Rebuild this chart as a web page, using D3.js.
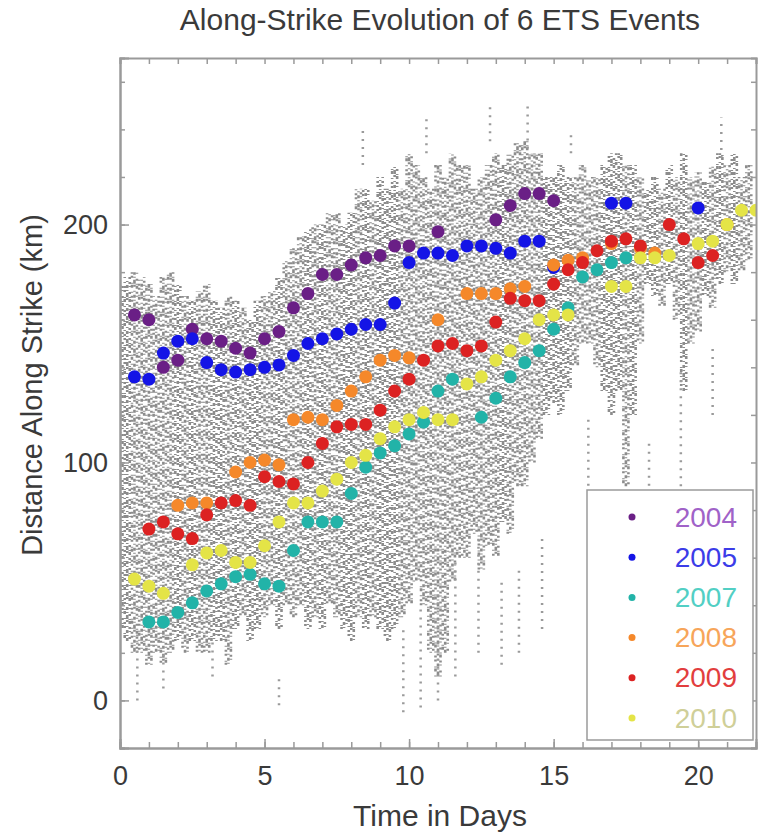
<!DOCTYPE html>
<html>
<head>
<meta charset="utf-8">
<script src="https://cdn.jsdelivr.net/npm/d3@7"></script>
<style>
  body { margin: 0; background: #fff; }
  svg { font-family: "Liberation Sans", Arial, sans-serif; }
</style>
</head>
<body>
<div id="chart"></div>
<script>
const svgWidth = 762, svgHeight = 835;

// tremor cloud, read as columns: [day, low km, high km]
const tremorCols = [
  [0.0,30,175],[0.25,25,178],[0.5,20,180],[0.75,20,178],[1.0,15,175],[1.25,20,170],
  [1.5,15,178],[1.75,20,180],[2.0,25,175],[2.25,20,170],[2.5,25,168],[2.75,20,172],
  [3.0,20,175],[3.25,25,168],[3.5,25,165],[3.75,15,170],[4.0,30,168],[4.25,35,165],
  [4.5,25,160],[4.75,30,168],[5.0,35,170],[5.25,40,172],[5.5,30,178],[5.75,40,185],
  [6.0,35,190],[6.25,40,195],[6.5,30,198],[6.75,35,200],[7.0,30,200],[7.25,40,205],
  [7.5,35,205],[7.75,30,200],[8.0,25,205],[8.25,35,215],[8.5,30,215],[8.75,35,210],
  [9.0,30,220],[9.25,25,215],[9.5,30,225],[9.75,35,215],[10.0,40,230],[10.25,50,225],
  [10.5,40,220],[10.75,20,215],[11.0,10,225],[11.25,20,220],[11.5,50,230],[11.75,60,225],
  [12.0,60,225],[12.25,70,215],[12.5,55,220],[12.75,65,225],[13.0,60,230],[13.25,75,225],
  [13.5,70,230],[13.75,90,235],[14.0,90,235],[14.25,100,230],[14.5,110,230],[14.75,120,220],
  [15.0,125,220],[15.25,120,225],[15.5,130,220],[15.75,140,220],[16.0,150,225],[16.25,150,220],
  [16.5,140,220],[16.75,130,225],[17.0,120,230],[17.25,130,230],[17.5,90,225],[17.75,120,225],
  [18.0,150,220],[18.25,175,215],[18.5,170,220],[18.75,165,215],[19.0,175,225],[19.25,160,220],
  [19.5,130,230],[19.75,150,220],[20.0,155,222],[20.25,170,218],[20.5,165,225],[20.75,175,230],
  [21.0,180,225],[21.25,175,230],[21.5,180,220],[21.75,185,225]
];
// scattered outliers: [day, low km, high km]
const tremorSparse = [
  [0.6,0,30],[1.5,5,20],[3.2,10,25],[5.5,-2,10],[9.8,-5,30],[10.4,-3,40],[11.0,0,45],
  [11.6,10,60],[12.4,20,70],[13.2,15,50],[13.8,20,55],[14.6,30,70],[16.2,60,120],
  [17.6,40,90],[18.3,70,110],[19.4,90,140],[20.5,120,150],[8.4,225,240],[10.6,230,245],
  [12.8,235,250],[14.1,232,252],[15.6,230,240],[20.8,228,245]
];

const years = ["2004", "2005", "2007", "2008", "2009", "2010"];
const dotColors = ["#6a1f86", "#1414e6", "#22b3a8", "#f5882a", "#dc2222", "#e4e447"];
const labelColors = ["#a062c8", "#3c3ce8", "#52cfc4", "#f7a55a", "#e23e3e", "#cfcf98"];

const days2004 = [0.5,1,1.5,2,2.5,3,3.5,4,4.5,5,5.5,6,6.5,7,7.5,8,8.5,9,9.5,10,11,13,13.5,14,14.5,15];
const km2004 = [162,160,140,143,156,152,151,148,146,152,155,165,171,179,179,183,186,187,191,191,197,202,208,213,213,210];

const days2005 = [0.5,1,1.5,2,2.5,3,3.5,4,4.5,5,5.5,6,6.5,7,7.5,8,8.5,9,9.5,10,10.5,11,11.5,12,12.5,13,13.5,14,14.5,15,17,17.5,20];
const km2005 = [136,135,146,151,152,142,139,138,139,140,141,145,150,152,154,156,158,158,167,184,188,188,187,191,191,190,188,193,193,182,209,209,207];

const days2007 = [1,1.5,2,2.5,3,3.5,4,4.5,5,5.5,6,6.5,7,7.5,8,8.5,9,9.5,10,10.5,11,11.5,12.5,13,13.5,14,14.5,15,15.5,16,16.5,17,17.5];
const km2007 = [33,33,37,41,46,49,52,53,49,48,63,75,75,75,87,98,104,107,112,117,130,135,119,127,136,142,147,156,165,178,181,184,186];

const days2008 = [2,2.5,3,4,4.5,5,5.5,6,6.5,7,7.5,8,8.5,9,9.5,10,11,12,12.5,13,13.5,14,15,15.5,16,17,18,18.5,21];
const km2008 = [82,83,83,96,100,101,99,118,119,118,124,130,136,143,145,144,160,171,171,171,173,174,183,185,186,192,190,188,200];

const days2009 = [1,1.5,2,2.5,3,3.5,4,4.5,5,5.5,6,6.5,7,7.5,8,8.5,9,9.5,10,10.5,11,11.5,12,12.5,13,13.5,14,14.5,15,15.5,16,16.5,17,17.5,18,19,19.5,20,20.5];
const km2009 = [72,75,70,68,78,83,84,82,94,92,91,100,108,115,116,116,122,130,135,143,149,150,147,149,159,169,168,168,175,181,184,189,193,194,191,200,194,184,187];

const days2010 = [0.5,1,1.5,2.5,3,3.5,4,4.5,5,5.5,6,6.5,7,7.5,8,8.5,9,9.5,10,10.5,11,11.5,12,12.5,13,13.5,14,14.5,15,15.5,17,17.5,18,18.5,19,20,20.5,21,21.5,22];
const km2010 = [51,48,45,57,62,63,58,58,65,75,83,83,88,93,100,103,110,115,118,121,118,118,133,136,143,147,152,160,162,162,174,174,186,186,187,192,193,200,206,206];

const xTicks = [0, 5, 10, 15, 20];
const yTicks = [0, 100, 200];

const allDays = [days2004, days2005, days2007, days2008, days2009, days2010];
const allKm = [km2004, km2005, km2007, km2008, km2009, km2010];

const svg = d3.select("#chart").append("svg")
  .attr("width", svgWidth)
  .attr("height", svgHeight);

const x = d3.scaleLinear().domain([0, 22]).range([120, 756]);
const y = d3.scaleLinear().domain([-20, 270]).range([748, 58]);

const plot = svg.append("g");
plot.append("clipPath").attr("id", "clip")
  .append("rect").attr("x", 120).attr("y", 58).attr("width", 636).attr("height", 690);

// gray tremor cloud: each column drawn as three speckled strands
const strands = [
  { dx: -2.5, dash: "2 3 1 4 3 1 1 5 2 2" },
  { dx: 0, dash: "1 2 3 3 1 4 2 1 4 2" },
  { dx: 2.5, dash: "3 1 1 3 2 5 1 2 2 3" }
];
const cloud = plot.append("g").attr("clip-path", "url(#clip)");
strands.forEach((s, j) => {
  cloud.append("g").selectAll("line").data(tremorCols).enter().append("line")
    .attr("x1", d => x(d[0]) + s.dx).attr("x2", d => x(d[0]) + s.dx)
    .attr("y1", d => y(d[1])).attr("y2", d => y(d[2]))
    .attr("stroke", "#8c8c8c")
    .attr("stroke-width", 2.6)
    .attr("stroke-dasharray", s.dash)
    .attr("stroke-dashoffset", (d, i) => (i * i * 7 + j * 11) % 23);
});

plot.append("g").attr("clip-path", "url(#clip)")
  .selectAll("line").data(tremorSparse).enter().append("line")
  .attr("x1", d => x(d[0])).attr("x2", d => x(d[0]))
  .attr("y1", d => y(d[1])).attr("y2", d => y(d[2]))
  .attr("stroke", "#9a9a9a")
  .attr("stroke-width", 2.5)
  .attr("stroke-dasharray", "2 6");

// colored event series
years.forEach((yr, k) => {
  const pts = allDays[k].map((d, i) => [d, allKm[k][i]]);
  plot.append("g").attr("clip-path", "url(#clip)")
    .selectAll("circle").data(pts).enter().append("circle")
    .attr("cx", d => x(d[0]))
    .attr("cy", d => y(d[1]))
    .attr("r", 6.5)
    .attr("fill", dotColors[k]);
});

// axes (ticks inward, box on all four sides)
const frame = "#9a9a9a";
const styleAxis = g => {
  g.select(".domain").attr("stroke", frame).attr("stroke-width", 2);
  g.selectAll(".tick line").attr("stroke", frame).attr("stroke-width", 1.5);
  g.selectAll("text").attr("fill", "#3a3a3a").attr("font-size", 27);
};

svg.append("g").attr("transform", "translate(0,748)")
  .call(d3.axisBottom(x).tickValues(d3.range(0, 23, 1)).tickSize(-6).tickFormat(""))
  .call(styleAxis);
svg.append("g").attr("transform", "translate(0,748)")
  .call(d3.axisBottom(x).tickValues(xTicks).tickSize(-9).tickPadding(18).tickFormat(d3.format("d")))
  .call(styleAxis);
svg.append("g").attr("transform", "translate(0,58)")
  .call(d3.axisTop(x).tickValues(d3.range(0, 23, 1)).tickSize(-6).tickFormat(""))
  .call(styleAxis);
svg.append("g").attr("transform", "translate(120,0)")
  .call(d3.axisLeft(y).tickValues(d3.range(-20, 271, 20)).tickSize(-5).tickFormat(""))
  .call(styleAxis);
svg.append("g").attr("transform", "translate(120,0)")
  .call(d3.axisLeft(y).tickValues(yTicks).tickSize(-9).tickPadding(12).tickFormat(d3.format("d")))
  .call(styleAxis);
svg.append("g").attr("transform", "translate(756,0)")
  .call(d3.axisRight(y).tickValues(d3.range(-20, 271, 20)).tickSize(-5).tickFormat(""))
  .call(styleAxis);

// legend
const legend = svg.append("g");
legend.append("rect")
  .attr("x", 587).attr("y", 490).attr("width", 166).attr("height", 250)
  .attr("fill", "#fff").attr("stroke", frame).attr("stroke-width", 1.5);
years.forEach((yr, k) => {
  const ly = 517 + k * 40.2;
  legend.append("circle").attr("cx", 632).attr("cy", ly).attr("r", 3.5).attr("fill", dotColors[k]);
  legend.append("text").attr("x", 737).attr("y", ly)
    .attr("text-anchor", "end").attr("dominant-baseline", "central")
    .attr("font-size", 28).attr("fill", labelColors[k]).text(yr);
});

// titles
svg.append("text").attr("x", 440).attr("y", 30)
  .attr("text-anchor", "middle").attr("font-size", 30).attr("fill", "#3a3a3a")
  .text("Along-Strike Evolution of 6 ETS Events");
svg.append("text").attr("x", 440).attr("y", 826)
  .attr("text-anchor", "middle").attr("font-size", 30).attr("fill", "#3a3a3a")
  .text("Time in Days");
svg.append("text").attr("transform", "translate(42,385) rotate(-90)")
  .attr("text-anchor", "middle").attr("font-size", 29).attr("fill", "#3a3a3a")
  .text("Distance Along Strike (km)");
</script>
</body>
</html>
